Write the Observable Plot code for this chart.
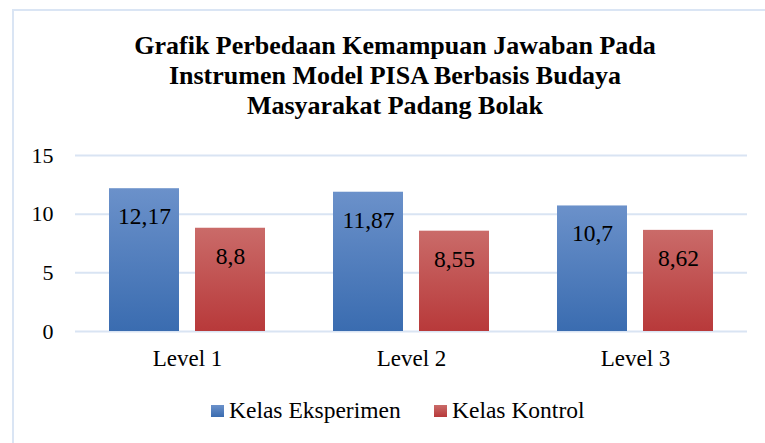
<!DOCTYPE html>
<html><head><meta charset="utf-8">
<script src="https://cdn.jsdelivr.net/npm/d3@7"></script>
<script src="https://cdn.jsdelivr.net/npm/@observablehq/plot@0.6"></script>
<style>
body{margin:0;background:#fff;}
#wrap{position:relative;width:765px;height:443px;overflow:hidden;font-family:"Liberation Serif","Times New Roman",serif;color:#000;background:#fff;}
#frame{position:absolute;left:12px;top:9px;width:800px;height:500px;border-left:2px solid #dae5f4;border-top:2px solid #dae5f4;}
#title{position:absolute;top:31px;left:395px;transform:translateX(-50%);white-space:nowrap;text-align:center;font-weight:bold;font-size:26px;line-height:30px;}
#chart{position:absolute;left:0;top:135px;}
.leg{position:absolute;top:399px;font-size:23.5px;line-height:23px;white-space:nowrap;}
.sw{position:absolute;width:13px;height:12px;top:405px;}
</style></head>
<body><div id="wrap"><div id="frame"></div><div id="title"></div><div id="chart"></div></div>
<script>
const titleLines = ["Grafik Perbedaan Kemampuan Jawaban Pada", "Instrumen Model PISA Berbasis Budaya", "Masyarakat Padang Bolak"];
const levels = ["Level 1", "Level 2", "Level 3"];
const series = ["Kelas Eksperimen", "Kelas Kontrol"];
const eksperimen = [12.17, 11.87, 10.7];
const kontrol = [8.8, 8.55, 8.62];
const yTicks = [0, 5, 10, 15];

const data = [];
levels.forEach((lv, i) => {
  data.push({level: lv, series: series[0], value: eksperimen[i]});
  data.push({level: lv, series: series[1], value: kontrol[i]});
});
const fmt = v => String(v).replace(".", ",");

document.getElementById("title").innerHTML = titleLines.join("<br>");

const gradients = [["gB", "#6b91ca", "#3a6cb0"], ["gR", "#ca6b69", "#b8393a"]];
const defs = () => {
  const d = d3.create("svg:defs");
  gradients.forEach(([id, a, b]) => {
    const g = d.append("linearGradient").attr("id", id).attr("x1", 0).attr("y1", 0).attr("x2", 0).attr("y2", 1);
    g.append("stop").attr("offset", "0%").attr("stop-color", a);
    g.append("stop").attr("offset", "100%").attr("stop-color", b);
  });
  return d.node();
};

const plot = Plot.plot({
  width: 765, height: 250,
  marginTop: 20, marginBottom: 54, marginLeft: 75, marginRight: 18,
  style: {fontFamily: "'Liberation Serif', serif", fontSize: "23px", color: "#000", background: "transparent", overflow: "visible"},
  fx: {domain: levels, padding: 0, label: null},
  x: {domain: series, paddingInner: 0.186, paddingOuter: 0.395, axis: null},
  y: {domain: [0, 15], label: null},
  color: {domain: series, range: ["url(#gB)", "url(#gR)"]},
  marks: [
    defs,
    Plot.ruleY(yTicks, {stroke: "#d9e4f3", strokeWidth: 2}),
    Plot.barY(data, {fx: "level", x: "series", y: "value", fill: "series"}),
    Plot.text(data, {fx: "level", x: "series", y: "value", text: d => fmt(d.value), dy: 28, fontSize: 23.5, fill: "#000"}),
    Plot.axisY(yTicks, {tickSize: 0, tickPadding: 22, fontSize: 22, label: null}),
    Plot.axisFx({anchor: "bottom", tickSize: 0, tickPadding: 18, fontSize: 23, label: null})
  ]
});
document.getElementById("chart").appendChild(plot);

const wrap = document.getElementById("wrap");
const legX = [211, 434];
const swColors = ["linear-gradient(#6b91ca,#3a6cb0)", "linear-gradient(#ca6b69,#b8393a)"];
series.forEach((s, i) => {
  const sw = document.createElement("div");
  sw.className = "sw";
  sw.style.left = legX[i] + "px";
  sw.style.background = swColors[i];
  wrap.appendChild(sw);
  const t = document.createElement("div");
  t.className = "leg";
  t.style.left = (legX[i] + 18) + "px";
  t.textContent = s;
  wrap.appendChild(t);
});
</script>
</body></html>
